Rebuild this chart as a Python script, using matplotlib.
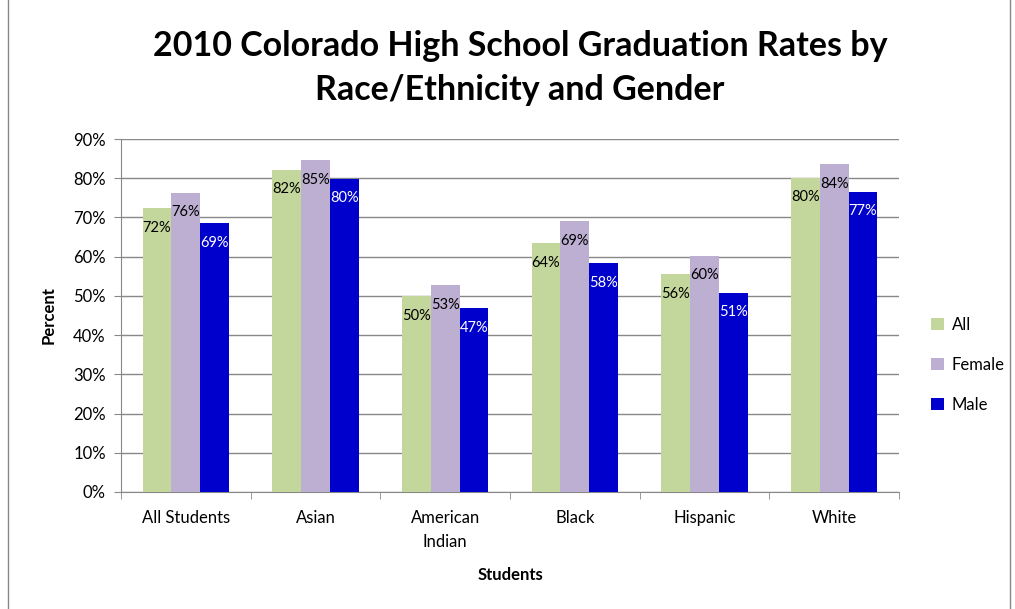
import numpy as np
import matplotlib
matplotlib.use("Agg")
import matplotlib.pyplot as plt
from matplotlib.patches import Rectangle

plt.rcParams['font.family'] = ['Lato', 'DejaVu Sans']

categories = ["All Students", "Asian", "American\nIndian", "Black", "Hispanic", "White"]
all_rates = [72.3, 82.2, 50.0, 63.5, 55.5, 80.1]
female_rates = [76.3, 84.6, 52.7, 69.1, 60.2, 83.6]
male_rates = [68.6, 79.9, 46.9, 58.3, 50.8, 76.6]
series_names = ["All", "Female", "Male"]
colors = ["#c3d69b", "#bcafd1", "#0000cc"]
label_colors = ["black", "black", "white"]

fig = plt.figure(figsize=(10.15, 6.09), dpi=100)
ax = fig.add_axes([121/1015, 1 - 492/609, (899 - 121)/1015, (492 - 139)/609])

x = np.arange(len(categories))
w = 1 / 4.5
for i, (vals, name) in enumerate(zip([all_rates, female_rates, male_rates], series_names)):
    pos = x + (i - 1) * w
    bars = ax.bar(pos, vals, width=w, color=colors[i], label=name, zorder=3)
    for b, v in zip(bars, vals):
        ax.text(b.get_x() + b.get_width() / 2, v - 5.0, f"{round(v):d}%",
                ha='center', va='center', fontsize=10.5, color=label_colors[i], zorder=4)

ax.set_xlim(-0.5, len(categories) - 0.5)
ax.set_ylim(0, 90)
ax.set_yticks(range(0, 91, 10))
ax.set_yticklabels([f"{t}%" for t in range(0, 91, 10)], fontsize=12)
ax.set_xticks(x)
ax.set_xticklabels(categories, fontsize=12, linespacing=1.6)
ax.set_xticks(np.arange(-0.5, len(categories)), minor=True)
ax.tick_params(axis='x', which='major', length=0, pad=13)
ax.tick_params(axis='x', which='minor', length=5, color='#888888')
ax.tick_params(axis='y', length=5, color='#888888', pad=6)
ax.grid(axis='y', color='#888888', linewidth=1, zorder=0)
for s in ['top', 'right']:
    ax.spines[s].set_visible(False)
for s in ['left', 'bottom']:
    ax.spines[s].set_color('#888888')
ax.set_axisbelow(True)

ax.set_ylabel("Percent", fontsize=12, fontweight='bold', labelpad=12)
ax.set_xlabel("Students", fontsize=12, fontweight='bold', labelpad=12)

fig.suptitle("2010 Colorado High School Graduation Rates by\nRace/Ethnicity and Gender",
             x=520/1015, y=1 - 30/609, fontsize=24.5, fontweight='bold', linespacing=1.45, va='top')

fig.legend(loc='center left', bbox_to_anchor=(916/1015, 1 - 365/609), frameon=False,
           fontsize=12, handlelength=0.75, handleheight=0.75, labelspacing=1.45, handletextpad=0.5)

fig.patches.append(Rectangle((8/1015, -0.01), (1010 - 8)/1015, 1.02, transform=fig.transFigure,
                             fill=False, edgecolor='#888888', linewidth=1))

fig.savefig("out.png", dpi=100)
